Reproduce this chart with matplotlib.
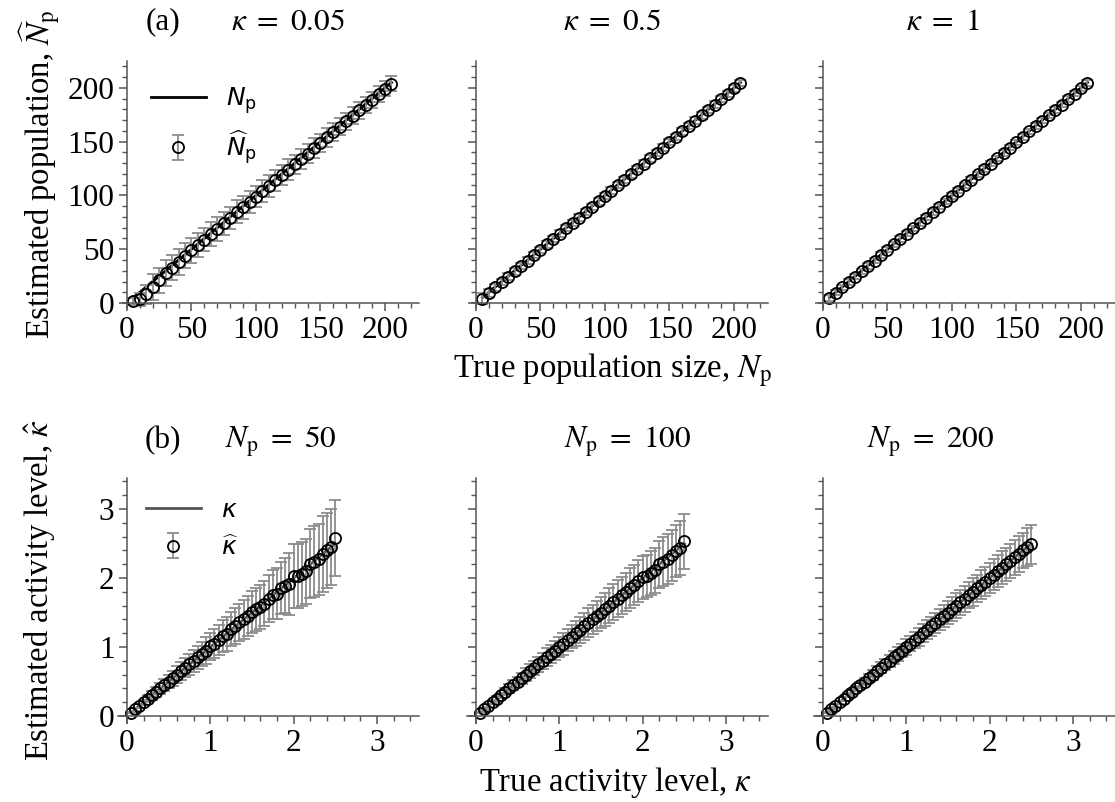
import numpy as np
import matplotlib
matplotlib.use('Agg')
import matplotlib.pyplot as plt
from matplotlib.ticker import MultipleLocator

plt.rcParams['font.family'] = ['Liberation Serif', 'DejaVu Serif']
plt.rcParams['mathtext.fontset'] = 'dejavusans'

# %% data ---------------------------------------------------------------------

N_true = [5, 10, 15, 20, 25, 30, 35, 40, 45, 50, 55, 60, 65, 70, 75, 80, 85,
          90, 95, 100, 105, 110, 115, 120, 125, 130, 135, 140, 145, 150, 155,
          160, 165, 170, 175, 180, 185, 190, 195, 200, 205]

kappa_vals = ['0.05', '0.5', '1']
N_est = {
    '0.05': [1.5, 3.5, 8, 15, 21, 28, 33, 38, 44, 49, 54, 59, 64, 69, 74, 79,
             85, 89, 94, 99, 104, 109, 114, 119, 124, 129, 134, 139, 144, 149,
             154, 159, 164, 169, 174, 179, 184, 189, 194, 199, 204],
    '0.5': [4, 9.5, 14.5, 19.5, 24.5, 29.5, 34.5, 39.5, 44.5, 49.5, 54.5,
            59.5, 64.5, 69.5, 74.5, 79.5, 84.5, 89.5, 94.5, 99.5, 104.5,
            109.5, 114.5, 119.5, 124.5, 129.5, 134.5, 139.5, 144.5, 149.5,
            154.5, 159.5, 164.5, 169.5, 174.5, 179.5, 184.5, 189.5, 194.5,
            199.5, 204.5],
    '1': [4.5, 9.5, 14.5, 19.5, 24.5, 29.5, 34.5, 39.5, 44.5, 49.5, 54.5,
          59.5, 64.5, 69.5, 74.5, 79.5, 84.5, 89.5, 94.5, 99.5, 104.5, 109.5,
          114.5, 119.5, 124.5, 129.5, 134.5, 139.5, 144.5, 149.5, 154.5,
          159.5, 164.5, 169.5, 174.5, 179.5, 184.5, 189.5, 194.5, 199.5,
          204.5],
}
N_err = {
    '0.05': [3, 6, 9, 12, 12, 12, 12, 12, 11.5, 11.5, 11.5, 11, 11, 11, 11,
             10.5, 10.5, 10.5, 10, 10, 10, 10, 9.5, 9.5, 9.5, 9, 9, 9, 9, 8.5,
             8.5, 8.5, 8, 8, 8, 8, 7.5, 7.5, 7.5, 7, 7],
    '0.5': [5, 4, 3.5, 3, 3, 3, 3, 3, 3, 3, 3, 3, 3, 3, 3, 3, 3, 3, 3, 3, 3,
            3, 3, 3, 3, 3, 3, 3, 3, 3, 3, 3, 3, 3, 3, 3, 3, 3, 3, 3, 3],
    '1': [3, 2.5, 2.5, 2.5, 2.5, 2.5, 2.5, 2.5, 2.5, 2.5, 2.5, 2.5, 2.5, 2.5,
          2.5, 2.5, 2.5, 2.5, 2.5, 2.5, 2.5, 2.5, 2.5, 2.5, 2.5, 2.5, 2.5,
          2.5, 2.5, 2.5, 2.5, 2.5, 2.5, 2.5, 2.5, 2.5, 2.5, 2.5, 2.5, 2.5,
          2.5],
}

kappa_true = [0.05, 0.10, 0.15, 0.20, 0.25, 0.30, 0.35, 0.40, 0.45, 0.50,
              0.55, 0.60, 0.65, 0.70, 0.75, 0.80, 0.85, 0.90, 0.95, 1.00,
              1.05, 1.10, 1.15, 1.20, 1.25, 1.30, 1.35, 1.40, 1.45, 1.50,
              1.55, 1.60, 1.65, 1.70, 1.75, 1.80, 1.85, 1.90, 1.95, 2.00,
              2.05, 2.10, 2.15, 2.20, 2.25, 2.30, 2.35, 2.40, 2.45, 2.50]

Np_vals = ['50', '100', '200']
k_est = {
    '50': [0.05, 0.10, 0.15, 0.20, 0.25, 0.30, 0.35, 0.40, 0.45, 0.50,
           0.55, 0.60, 0.65, 0.70, 0.75, 0.80, 0.85, 0.90, 0.95, 1.01,
           1.05, 1.10, 1.16, 1.19, 1.26, 1.31, 1.36, 1.40, 1.45, 1.51,
           1.55, 1.58, 1.63, 1.70, 1.76, 1.77, 1.86, 1.89, 1.92, 2.03,
           2.03, 2.06, 2.10, 2.21, 2.24, 2.27, 2.35, 2.40, 2.45, 2.58],
    '100': [0.05, 0.10, 0.15, 0.20, 0.25, 0.30, 0.35, 0.40, 0.45, 0.50,
            0.55, 0.60, 0.65, 0.70, 0.75, 0.80, 0.85, 0.90, 0.95, 1.00,
            1.05, 1.10, 1.15, 1.20, 1.25, 1.30, 1.35, 1.40, 1.45, 1.50,
            1.55, 1.60, 1.65, 1.70, 1.75, 1.80, 1.85, 1.90, 1.96, 2.01,
            2.03, 2.07, 2.11, 2.20, 2.24, 2.28, 2.33, 2.39, 2.44, 2.53],
    '200': [0.05, 0.10, 0.15, 0.20, 0.25, 0.30, 0.35, 0.40, 0.45, 0.50,
            0.55, 0.60, 0.65, 0.70, 0.75, 0.80, 0.85, 0.90, 0.95, 1.00,
            1.05, 1.10, 1.15, 1.20, 1.25, 1.30, 1.35, 1.40, 1.45, 1.50,
            1.55, 1.60, 1.65, 1.70, 1.75, 1.80, 1.85, 1.90, 1.95, 2.00,
            2.05, 2.10, 2.15, 2.20, 2.25, 2.30, 2.35, 2.40, 2.45, 2.49],
}
k_err = {
    '50': [0.01, 0.02, 0.03, 0.04, 0.05, 0.06, 0.07, 0.08, 0.09, 0.10,
           0.11, 0.12, 0.13, 0.14, 0.15, 0.16, 0.17, 0.18, 0.19, 0.19,
           0.21, 0.22, 0.23, 0.24, 0.25, 0.26, 0.27, 0.28, 0.29, 0.30,
           0.31, 0.32, 0.33, 0.34, 0.36, 0.37, 0.38, 0.40, 0.45, 0.46,
           0.46, 0.46, 0.47, 0.50, 0.51, 0.52, 0.55, 0.55, 0.55, 0.55],
    '100': [0.01, 0.01, 0.02, 0.03, 0.04, 0.04, 0.05, 0.06, 0.07, 0.07,
            0.08, 0.09, 0.10, 0.10, 0.11, 0.12, 0.13, 0.13, 0.14, 0.15,
            0.16, 0.16, 0.17, 0.18, 0.19, 0.20, 0.21, 0.21, 0.22, 0.23,
            0.24, 0.25, 0.26, 0.27, 0.27, 0.28, 0.29, 0.29, 0.30, 0.31,
            0.31, 0.32, 0.33, 0.34, 0.35, 0.36, 0.37, 0.38, 0.39, 0.40],
    '200': [0.01, 0.01, 0.02, 0.02, 0.03, 0.03, 0.04, 0.04, 0.05, 0.05,
            0.06, 0.07, 0.07, 0.08, 0.08, 0.09, 0.09, 0.10, 0.10, 0.11,
            0.11, 0.12, 0.13, 0.13, 0.14, 0.14, 0.15, 0.15, 0.16, 0.17,
            0.17, 0.18, 0.18, 0.19, 0.19, 0.20, 0.20, 0.21, 0.21, 0.22,
            0.23, 0.23, 0.24, 0.24, 0.25, 0.25, 0.26, 0.26, 0.27, 0.28],
}

# %% layout -------------------------------------------------------------------

W, H = 1115, 802
FS = 22.5
FL = 23.5
fig = plt.figure(figsize=(W / 100, H / 100), dpi=100)


def px_axes(left, top, right, bottom):
    return fig.add_axes([left / W, 1 - bottom / H, (right - left) / W,
                         (bottom - top) / H])


def px_text(x, y, s, **kw):
    kw.setdefault('fontsize', FS)
    kw.setdefault('ha', 'center')
    kw.setdefault('va', 'center')
    return fig.text(x / W, 1 - y / H, s, **kw)


spine_x = [127, 476, 823]
ax_top = [px_axes(s - 3.9, 61, s + 291.5, 308.4) for s in spine_x]
ax_bot = [px_axes(s - 9.2, 478, s + 291.6, 723) for s in spine_x]

err_kw = dict(fmt='o', mfc='none', mec='k', mew=1.3, ms=8,
              ecolor='#8c8c8c', elinewidth=1.3)

top_title_x = [288, 612, 943]
bot_title_x = [281, 628, 931]

for i, (ax, kv) in enumerate(zip(ax_top, kappa_vals)):
    ax.plot(N_true, N_true, '-k', lw=2.0, label=r'$N_\mathrm{p}$', zorder=1)
    ax.errorbar(N_true, N_est[kv], yerr=N_err[kv], capsize=4.5,
                label=r'$\widehat{N}_\mathrm{p}$', zorder=2, **err_kw)
    ax.set_xlim(-3, 226)
    ax.set_ylim(-5, 225)
    ax.xaxis.set_major_locator(MultipleLocator(50))
    ax.xaxis.set_minor_locator(MultipleLocator(10))
    ax.yaxis.set_major_locator(MultipleLocator(50))
    ax.yaxis.set_minor_locator(MultipleLocator(10))
    if i > 0:
        ax.set_yticklabels([])
    px_text(top_title_x[i], 22, r'$\kappa\ =\ %s$' % kv,
            math_fontfamily='stix')

for i, (ax, nv) in enumerate(zip(ax_bot, Np_vals)):
    ax.plot(kappa_true, kappa_true, '-', color='#555555', lw=2.0,
            label=r'$\kappa$', zorder=1)
    ax.errorbar(kappa_true, k_est[nv], yerr=k_err[nv], capsize=4,
                label=r'$\widehat{\kappa}$', zorder=2, **err_kw)
    ax.set_xlim(-0.11, 3.5)
    ax.set_ylim(-0.1, 3.45)
    ax.xaxis.set_major_locator(MultipleLocator(1))
    ax.xaxis.set_minor_locator(MultipleLocator(0.2))
    ax.yaxis.set_major_locator(MultipleLocator(1))
    ax.yaxis.set_minor_locator(MultipleLocator(0.2))
    if i > 0:
        ax.set_yticklabels([])
    px_text(bot_title_x[i], 442, r'$N_\mathrm{p}\ =\ %s$' % nv,
            math_fontfamily='stix')

for ax in ax_top + ax_bot:
    for side in ['top', 'right']:
        ax.spines[side].set_visible(False)
    ax.spines['left'].set_position(('data', 0))
    ax.spines['bottom'].set_position(('data', 0))
    for side in ['left', 'bottom']:
        ax.spines[side].set_color('#555555')
        ax.spines[side].set_linewidth(1.1)
    ax.tick_params(which='major', direction='out', length=6, width=1.1,
                   color='#555555', labelsize=FS, pad=3)
    ax.tick_params(which='minor', direction='out', length=3.5, width=1.0,
                   color='#555555')

# legends only in the first column
ax_top[0].legend(loc='upper left', bbox_to_anchor=(0.018, 0.994),
                 frameon=False, fontsize=18, handlelength=2.2,
                 handletextpad=0.8, labelspacing=0.5)
ax_bot[0].legend(loc='upper left', bbox_to_anchor=(0.018, 1.005),
                 frameon=False, fontsize=18, handlelength=2.2,
                 handletextpad=0.8, labelspacing=0.55)

px_text(163, 22, '(a)')
px_text(163, 441, '(b)')

px_text(612, 370, r'True population size, $N_\mathrm{p}$', fontsize=FL,
        math_fontfamily='stix')
px_text(615, 782, r'True activity level, $\kappa$', fontsize=FL,
        math_fontfamily='stix')
px_text(40, 174, r'Estimated population, $\widehat{N}_\mathrm{p}$',
        fontsize=FL, rotation=90, math_fontfamily='stix')
px_text(40, 590, r'Estimated activity level, $\hat{\kappa}$',
        fontsize=FL, rotation=90, math_fontfamily='stix')

fig.savefig('out.png', dpi=100)
